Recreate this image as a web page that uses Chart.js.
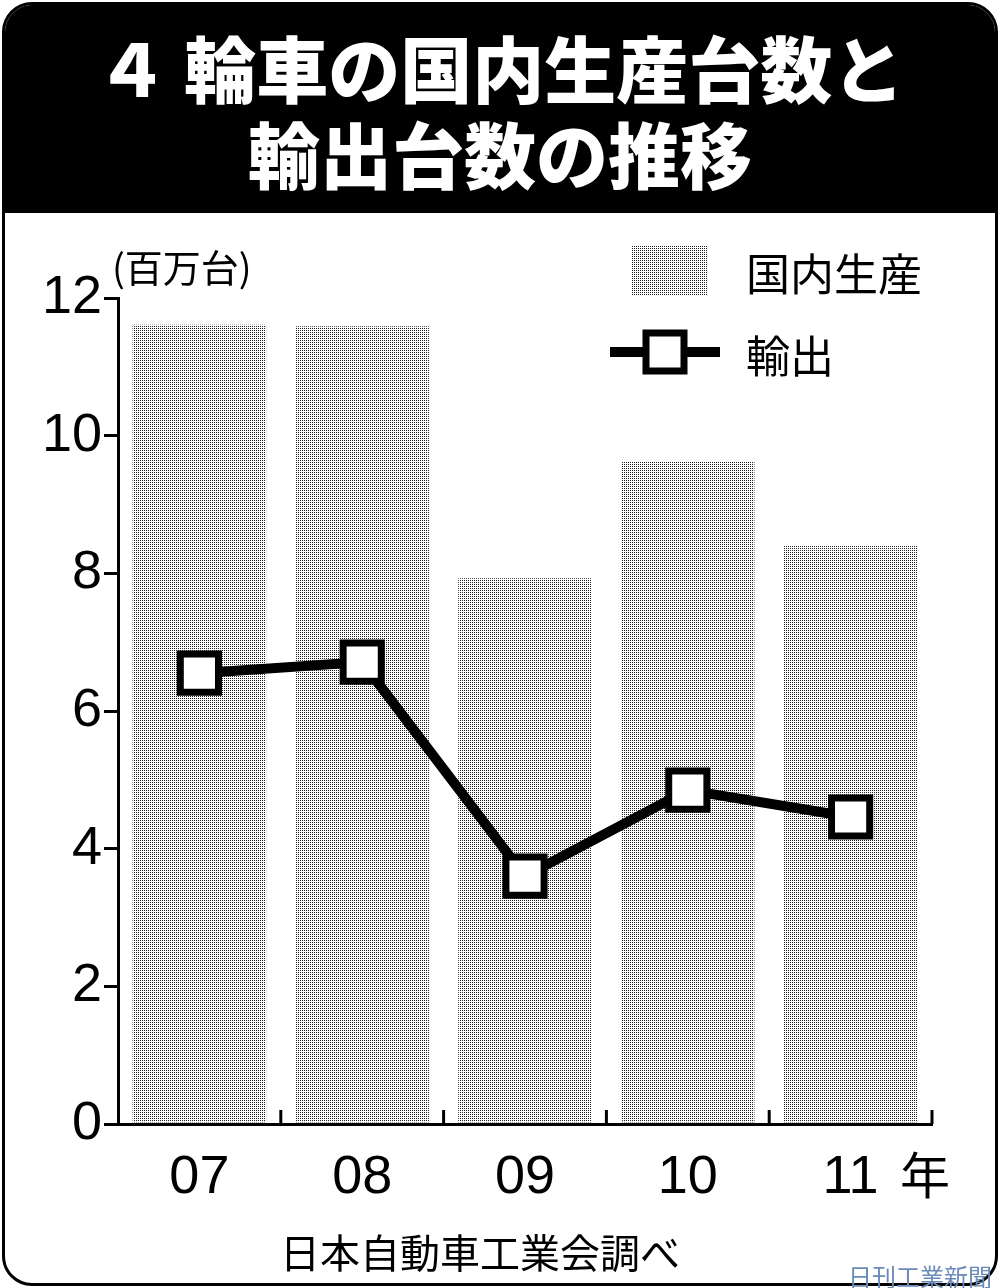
<!DOCTYPE html>
<html><head><meta charset="utf-8">
<script src="https://cdn.jsdelivr.net/npm/chart.js@4"></script>
<style>
body{margin:0;background:#fff;width:1000px;height:1288px;overflow:hidden;font-family:"Noto Sans CJK JP",sans-serif;}
#frame{position:absolute;left:2px;top:2px;width:990px;height:1278px;border:3px solid #000;border-radius:30px;overflow:hidden;}
#band{position:absolute;left:0;top:0;width:100%;height:208px;background:#000;color:#fff;font-weight:900;font-size:72px;line-height:86px;text-align:center;padding-top:18px;box-sizing:border-box;}
canvas{position:absolute;left:0;top:0;}
.t{position:absolute;color:#000;white-space:nowrap;}
</style></head><body>
<div id="frame"><div id="band">４ 輪車の国内生産台数と<br>輸出台数の推移</div></div>
<canvas id="c" width="1000" height="1288"></canvas>
<div class="t" style="left:112px;top:238px;font-size:38px;">(百万台)</div>
<div class="t" style="left:746px;top:240px;font-size:44px;">国内生産</div>
<div class="t" style="left:746px;top:322px;font-size:44px;">輸出</div>
<div class="t" style="left:900px;top:1136px;font-size:50px;">年</div>
<div class="t" style="left:280px;top:1222px;font-size:40px;">日本自動車工業会調べ</div>
<div class="t" style="left:848px;top:1258px;font-size:24px;color:#6a8ab8;">日刊工業新聞</div>
<script>
const categories=["07","08","09","10","11"];
const production=[11.61,11.59,7.93,9.63,8.40];
const exports=[6.55,6.71,3.60,4.85,4.46];
const yTicks=[0,2,4,6,8,10,12];

const pc=document.createElement('canvas');pc.width=4;pc.height=4;
const px=pc.getContext('2d');px.fillStyle='#fff';px.fillRect(0,0,4,4);px.fillStyle='#222';
px.fillRect(0,0,1,1);px.fillRect(2,2,1,1);px.fillRect(2,0,1,1);px.fillRect(0,2,1,1);
const pattern=document.getElementById('c').getContext('2d').createPattern(pc,'repeat');

const extras={id:'extras',afterDraw(ch){
 const ctx=ch.ctx,x=ch.scales.x;
 ctx.save();ctx.strokeStyle='#000';ctx.lineWidth=3;
 for(let i=1;i<categories.length;i++){
  const p=(x.getPixelForValue(i-1)+x.getPixelForValue(i))/2;
  ctx.beginPath();ctx.moveTo(p,ch.chartArea.bottom);ctx.lineTo(p,ch.chartArea.bottom-14);ctx.stroke();}
 const pr=x.getPixelForValue(categories.length-1)+(x.getPixelForValue(1)-x.getPixelForValue(0))/2;
 ctx.beginPath();ctx.moveTo(pr,ch.chartArea.bottom);ctx.lineTo(pr,ch.chartArea.bottom-14);ctx.stroke();
 ctx.fillStyle=pattern;ctx.fillRect(632,246,76,50);
 ctx.lineWidth=10;ctx.beginPath();ctx.moveTo(610,352);ctx.lineTo(720,352);ctx.stroke();
 ctx.fillStyle='#fff';ctx.lineWidth=7;ctx.fillRect(646,333,38,38);ctx.strokeRect(646,333,38,38);
 ctx.restore();}};

new Chart(document.getElementById('c'),{
 data:{labels:categories,datasets:[
  {type:'line',label:'輸出',data:exports,borderColor:'#000',borderWidth:10,pointStyle:'rect',pointRadius:27,pointBackgroundColor:'#fff',pointBorderColor:'#000',pointBorderWidth:7,order:0},
  {type:'bar',label:'国内生産',data:production,backgroundColor:pattern,barPercentage:0.82,categoryPercentage:1,order:1}]},
 options:{responsive:false,animation:false,devicePixelRatio:1,
  layout:{padding:{left:0,top:298,right:68,bottom:74}},
  plugins:{legend:{display:false},tooltip:{enabled:false}},
  scales:{
   x:{grid:{display:false},border:{color:'#000',width:3},
      ticks:{color:'#000',font:{family:'Liberation Sans',size:54},padding:14},
      afterFit(s){s.height=90;}},
   y:{min:0,max:12,afterBuildTicks(s){s.ticks=yTicks.map(v=>({value:v}));},
      grid:{drawOnChartArea:false,drawTicks:true,tickLength:14,color:'#000',lineWidth:3},
      border:{color:'#000',width:3},
      ticks:{color:'#000',font:{family:'Liberation Sans',size:54},padding:2},
      afterFit(s){s.width=118;}}}},
 plugins:[extras]});
</script></body></html>
